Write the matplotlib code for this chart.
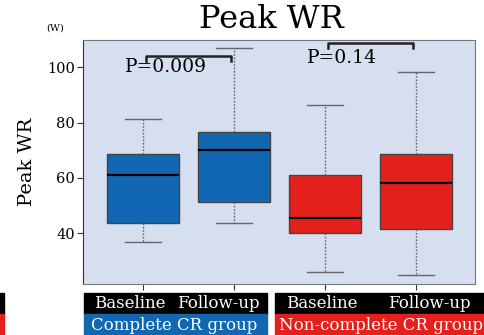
import matplotlib
matplotlib.use("Agg")
import matplotlib.pyplot as plt
from matplotlib.patches import Rectangle

plt.rcParams['font.family'] = ['DejaVu Serif', 'Liberation Serif']

# Data
labels = ["Baseline", "Follow-up", "Baseline", "Follow-up"]
groups = ["Complete CR group", "Non-complete CR group"]
whislo = [36.7, 43.6, 25.8, 24.7]
q1 = [43.6, 51.3, 40.0, 41.5]
med = [61.0, 70.0, 45.5, 58.2]
q3 = [68.7, 76.7, 61.0, 68.7]
whishi = [81.5, 107.0, 86.5, 98.2]
p_values = ["P=0.009", "P=0.14"]
bracket_y = [104.0, 108.7]
yticks = [40, 60, 80, 100]

blue = "#1167b1"
red = "#e3201c"
box_colors = [blue, blue, red, red]

fig = plt.figure(figsize=(4.84, 3.35), dpi=100)
ax = fig.add_axes([0.1715, 0.152, 0.81, 0.729])
ax.set_facecolor("#d6dff0")

stats = []
for i in range(4):
    stats.append(dict(whislo=whislo[i], q1=q1[i], med=med[i], q3=q3[i],
                      whishi=whishi[i], fliers=[], label=labels[i]))
bp = ax.bxp(stats, positions=[1, 2, 3, 4], widths=0.8, patch_artist=True,
            showfliers=False,
            boxprops=dict(edgecolor="#444444", linewidth=1.0),
            medianprops=dict(color="black", linewidth=1.6),
            whiskerprops=dict(color="#666666", linestyle=(0, (1.2, 1.2)), linewidth=1.0),
            capprops=dict(color="#666666", linewidth=1.0),
            capwidths=0.4)
for patch, c in zip(bp['boxes'], box_colors):
    patch.set_facecolor(c)

ax.set_xlim(0.34, 4.65)
ax.set_ylim(21.5, 110)
ax.set_yticks(yticks)
ax.set_yticklabels([str(t) for t in yticks], fontsize=10.5)
ax.set_xticks([1, 2, 3, 4])
ax.set_xticklabels([])
ax.tick_params(axis='both', direction='out', length=4, color="#333333", pad=2)
for s in ax.spines.values():
    s.set_color("#777777")
    s.set_linewidth(0.8)
ax.spines['left'].set_color("#333333")

# brackets
for (x0, x1), by in zip([(1, 2), (3, 4)], bracket_y):
    ax.plot([x0 + 0.03, x0 + 0.03, x1 - 0.03, x1 - 0.03], [by - 1.6, by, by, by - 1.6],
            color="#222222", linewidth=1.8)
ax.text(0.8, 100.3, p_values[0], fontsize=13.5, ha="left", va="center")
ax.text(2.8, 103.3, p_values[1], fontsize=13.5, ha="left", va="center")

ax.set_ylabel("Peak WR", fontsize=14, labelpad=8)
fig.text(271 / 484, 1 - 19 / 335, "Peak WR", fontsize=23, ha="center", va="center")
fig.text(55 / 484, 1 - 28 / 335, "(W)", fontsize=7, ha="center", va="center")

# table below
W, H = 484, 335
def rect(x0, y0, x1, y1, c):
    fig.patches.append(Rectangle((x0 / W, 1 - y1 / H), (x1 - x0) / W, (y1 - y0) / H,
                                 transform=fig.transFigure, color=c, zorder=0))
rect(84, 293, 267, 314, "black")
rect(84, 314, 267, 335, blue)
rect(275, 293, 484, 314, "black")
rect(275, 314, 484, 335, red)
rect(0, 293, 4, 314, "black")
rect(0, 314, 4, 335, red)

fig.text(130 / W, 1 - 304 / H, labels[0], color="white", fontsize=12, ha="center", va="center")
fig.text(218 / W, 1 - 304 / H, labels[1], color="white", fontsize=12, ha="center", va="center")
fig.text(322 / W, 1 - 304 / H, labels[2], color="white", fontsize=12, ha="center", va="center")
fig.text(429 / W, 1 - 304 / H, labels[3], color="white", fontsize=12, ha="center", va="center")
fig.text(91 / W, 1 - 325 / H, groups[0], color="white", fontsize=12, ha="left", va="center")
fig.text(279 / W, 1 - 325 / H, groups[1], color="white", fontsize=12, ha="left", va="center")

fig.savefig("out.png", dpi=100)
